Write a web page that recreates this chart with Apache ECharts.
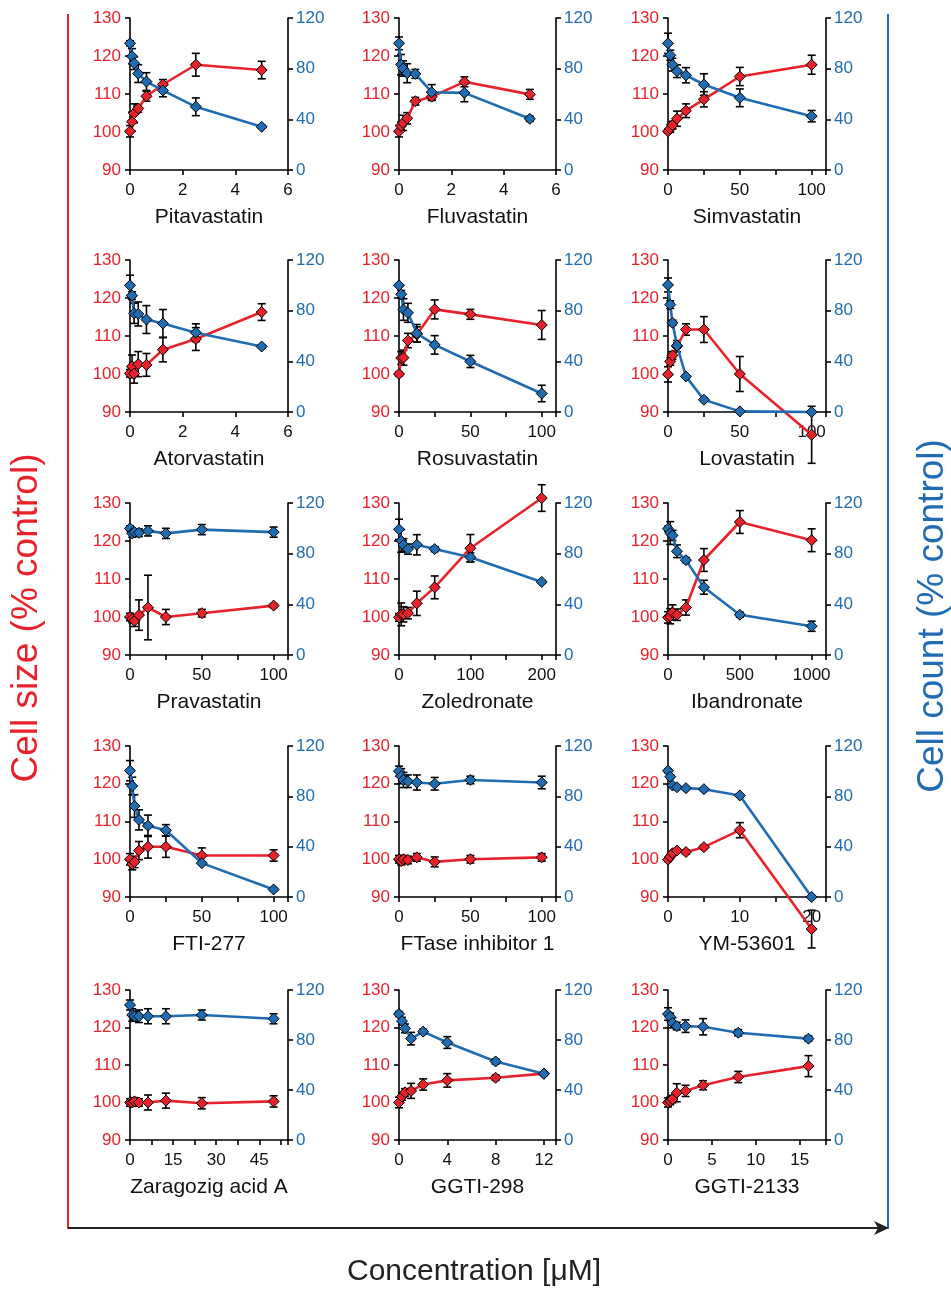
<!DOCTYPE html>
<html>
<head>
<meta charset="utf-8">
<script src="https://cdn.jsdelivr.net/npm/echarts@6/dist/echarts.min.js"></script>
<style>
html,body{margin:0;padding:0;background:#fff;}
#chart{width:951px;height:1289px;}
</style>
</head>
<body>
<div id="chart"></div>
<script>
// ---------- DATA ----------
const drugNames = ['Pitavastatin','Fluvastatin','Simvastatin','Atorvastatin','Rosuvastatin','Lovastatin',
  'Pravastatin','Zoledronate','Ibandronate','FTI-277','FTase inhibitor 1','YM-53601',
  'Zaragozig acid A','GGTI-298','GGTI-2133'];

// Pitavastatin
const pitaDose = [0, 0.078, 0.156, 0.3125, 0.625, 1.25, 2.5, 5];
const pitaSize = [100.2, 102.7, 104.9, 106.2, 109.4, 112.5, 117.7, 116.3];
const pitaSizeErr = [1.5, 2.5, 2.5, 1, 1.3, 1.3, 3, 2.3];
const pitaCount = [100, 89.8, 84.3, 76.1, 69.8, 62.8, 49.9, 34.1];
const pitaCountErr = [2, 6, 5, 7, 7, 5, 7, 1];
// Fluvastatin
const fluvDose = [0, 0.078, 0.156, 0.3125, 0.625, 1.25, 2.5, 5];
const fluvSize = [100.2, 101.6, 102.4, 103.6, 108.1, 109.3, 113.2, 109.9];
const fluvSizeErr = [1.5, 1, 2, 1.5, 1, 1, 1.3, 1.3];
const fluvCount = [100, 83.2, 80.1, 76.4, 75.9, 61.4, 60.9, 40.4];
const fluvCountErr = [5, 8, 6, 7.5, 3.5, 6, 7, 2];
// Simvastatin
const simvDose = [0, 1.5625, 3.125, 6.25, 12.5, 25, 50, 100];
const simvSize = [100.2, 100.9, 101.8, 103.5, 105.6, 108.6, 114.6, 117.7];
const simvSizeErr = [0.5, 1, 1, 2, 1.8, 2, 2.4, 2.5];
const simvCount = [100, 90.6, 83.2, 78.0, 74.8, 67.5, 57.0, 42.5];
const simvCountErr = [8, 4, 5, 5, 6, 8.5, 7, 4.5];
// Atorvastatin
const atorDose = [0, 0.078, 0.156, 0.3125, 0.625, 1.25, 2.5, 5];
const atorSize = [100.2, 102.0, 100.1, 102.6, 102.4, 106.4, 109.2, 116.3];
const atorSizeErr = [1, 3, 2.5, 3.3, 3, 3.2, 3, 2.2];
const atorCount = [100, 91.9, 77.9, 77.4, 73.0, 69.9, 62.6, 51.7];
const atorCountErr = [8, 3, 8, 9.5, 11, 11, 7, 1];
// Rosuvastatin
const rosuDose = [0, 1.5625, 3.125, 6.25, 12.5, 25, 50, 100];
const rosuSize = [100, 104.2, 104.3, 108.8, 110.4, 117.0, 115.7, 112.9];
const rosuSizeErr = [0.5, 1.7, 2, 1.9, 2, 2.5, 1.3, 3.8];
const rosuCount = [100, 92.9, 80.9, 78.3, 62.1, 53.0, 39.9, 14.6];
const rosuCountErr = [1, 3, 8.5, 7.5, 7, 7.3, 4.8, 6.5];
// Lovastatin
const lovaDose = [0, 1.5625, 3.125, 6.25, 12.5, 25, 50, 100];
const lovaSize = [99.9, 103.3, 104.9, 107.3, 111.7, 111.7, 100, 84];
const lovaSizeErr = [2, 1, 1, 1.5, 1.5, 3.4, 4.6, 7.5];
const lovaCount = [100.3, 84.8, 70.4, 52.5, 28.1, 9.7, 0.5, 0];
const lovaCountErr = [5.5, 3, 2, 2, 1, 1, 0, 0];
// Pravastatin
const pravDose = [0, 1.5625, 3.125, 6.25, 12.5, 25, 50, 100];
const pravSize = [100, 99.5, 99, 100.5, 102.5, 100, 101, 103];
const pravSizeErr = [1, 1, 1.5, 4, 8.5, 2, 1, 0.5];
const pravCount = [100, 96, 97, 96.5, 98, 96, 99, 97];
const pravCountErr = [2, 3, 2, 3, 4, 4, 4, 4];
// Zoledronate
const zoleDose = [0, 3.125, 6.25, 12.5, 25, 50, 100, 200];
const zoleSize = [99.9, 100.7, 100.7, 101, 103.6, 107.8, 118.1, 131.3];
const zoleSizeErr = [1, 3, 2, 1.5, 3.2, 3, 3.6, 3.5];
const zoleCount = [99.2, 90.1, 86.8, 83.6, 87, 83.6, 77.1, 57.7];
const zoleCountErr = [8, 9, 5, 4, 8, 2, 3.5, 1];
// Ibandronate
const ibanDose = [0, 15.625, 31.25, 62.5, 125, 250, 500, 1000];
const ibanSize = [99.9, 100.2, 101.2, 100.6, 102.5, 115, 125, 120.2];
const ibanSizeErr = [1.5, 2, 2, 1.5, 2, 3, 3, 3];
const ibanCount = [99.7, 96.3, 94.4, 81.9, 74.9, 53.5, 31.8, 22.7];
const ibanCountErr = [2, 9, 4, 5, 2, 5.5, 2, 4];
// FTI-277
const ftiDose = [0, 1.5625, 3.125, 6.25, 12.5, 25, 50, 100];
const ftiSize = [100, 98.7, 99.3, 102.3, 103.3, 103.3, 101, 101];
const ftiSizeErr = [1.5, 1.5, 1.5, 2.4, 3, 2.8, 2, 1.5];
const ftiCount = [100.4, 88.2, 72.3, 61.3, 56.6, 53, 26.9, 6];
const ftiCountErr = [8, 7, 9, 8, 8.5, 4.5, 1, 1];
// FTase inhibitor 1
const ftaseDose = [0, 1.5625, 3.125, 6.25, 12.5, 25, 50, 100];
const ftaseSize = [100, 99.5, 100, 99.8, 100.5, 99.3, 100, 100.5];
const ftaseSizeErr = [1, 1, 1, 1, 1, 1.3, 1, 1];
const ftaseCount = [100, 96, 93, 92, 91, 90, 93, 91];
const ftaseCountErr = [4, 6, 6, 5, 6, 5, 3, 5];
// YM-53601
const ymDose = [0, 0.3125, 0.625, 1.25, 2.5, 5, 10, 20];
const ymSize = [99.9, 100.7, 101.6, 102.3, 101.9, 103.2, 107.7, 81.5];
const ymSizeErr = [0.5, 0.5, 0.5, 0.5, 0.5, 0.5, 2, 5];
const ymCount = [100.3, 95.6, 88.6, 87.2, 86.5, 85.7, 80.7, 0];
const ymCountErr = [1.5, 1.5, 1, 1, 1, 1, 1, 0];
// Zaragozic acid A
const zaraDose = [0, 0.78, 1.5625, 3.125, 6.25, 12.5, 25, 50];
const zaraSize = [100, 100, 100.3, 100, 100, 100.5, 99.8, 100.3];
const zaraSizeErr = [1, 1, 1, 1, 2, 2, 1.5, 1.5];
const zaraCount = [108, 100, 99, 99, 99, 99, 100, 97];
const zaraCountErr = [4, 5, 4, 5, 6, 6, 4, 4];
// GGTI-298
const g298Dose = [0, 0.25, 0.5, 1, 2, 4, 8, 12];
const g298Size = [100, 101.6, 102.7, 103.1, 104.8, 105.9, 106.6, 107.7];
const g298SizeErr = [1.4, 1, 1, 2, 1.5, 1.8, 0.7, 0.5];
const g298Count = [100.8, 95.1, 89.3, 81.1, 86.7, 78, 62.8, 53];
const g298CountErr = [2, 3, 3.5, 5, 2, 4.7, 2, 1];
// GGTI-2133
const g2133Dose = [0, 0.25, 0.5, 1, 2, 4, 8, 16];
const g2133Size = [100, 100.4, 100.9, 102.6, 103.1, 104.6, 106.8, 109.7];
const g2133SizeErr = [1.2, 1, 1, 2.4, 1.5, 1.2, 1.5, 2.8];
const g2133Count = [100.8, 98.5, 93.7, 91.1, 91.1, 90.6, 85.8, 81.1];
const g2133CountErr = [5, 3, 4, 3, 5, 6.5, 2.5, 2];

// x-axis settings (max, interval, labelled ticks)
const xMax = [6, 6, 110, 6, 110, 110, 110, 220, 1100, 110, 110, 22, 55, 13, 18];
const xInterval = [2, 2, 25, 2, 25, 25, 25, 50, 250, 25, 25, 5, 7.5, 4, 5];
const xTickLabels = [[0,2,4,6],[0,2,4,6],[0,50,100],[0,2,4,6],[0,50,100],[0,50,100],
  [0,50,100],[0,100,200],[0,500,1000],[0,50,100],[0,50,100],[0,10,20],
  [0,15,30,45],[0,4,8,12],[0,5,10,15]];
const sizeTicks = [90, 100, 110, 120, 130];
const countTicks = [0, 40, 80, 120];

const panels = [
  [pitaDose, pitaSize, pitaSizeErr, pitaCount, pitaCountErr],
  [fluvDose, fluvSize, fluvSizeErr, fluvCount, fluvCountErr],
  [simvDose, simvSize, simvSizeErr, simvCount, simvCountErr],
  [atorDose, atorSize, atorSizeErr, atorCount, atorCountErr],
  [rosuDose, rosuSize, rosuSizeErr, rosuCount, rosuCountErr],
  [lovaDose, lovaSize, lovaSizeErr, lovaCount, lovaCountErr],
  [pravDose, pravSize, pravSizeErr, pravCount, pravCountErr],
  [zoleDose, zoleSize, zoleSizeErr, zoleCount, zoleCountErr],
  [ibanDose, ibanSize, ibanSizeErr, ibanCount, ibanCountErr],
  [ftiDose, ftiSize, ftiSizeErr, ftiCount, ftiCountErr],
  [ftaseDose, ftaseSize, ftaseSizeErr, ftaseCount, ftaseCountErr],
  [ymDose, ymSize, ymSizeErr, ymCount, ymCountErr],
  [zaraDose, zaraSize, zaraSizeErr, zaraCount, zaraCountErr],
  [g298Dose, g298Size, g298SizeErr, g298Count, g298CountErr],
  [g2133Dose, g2133Size, g2133SizeErr, g2133Count, g2133CountErr]
];

// ---------- STYLE / LAYOUT ----------
const RED = '#e8222b';
const BLUE = '#1f6cb3';
const FONT = '"Liberation Sans", Arial, Helvetica, sans-serif';
const colLeft = [130, 399, 668];
const colWidth = [158, 157, 158];
const rowTop = [18, 260, 503, 746, 990];
const rowHeight = [152, 152, 152, 151, 150];

const grids = [], xAxes = [], yAxes = [], series = [];

function errRender(params, api) {
  const x = api.value(0), lo = api.value(1), hi = api.value(2);
  if (hi - lo <= 0) return null;
  const p1 = api.coord([x, hi]);
  const p2 = api.coord([x, lo]);
  const w = 4;
  const st = { stroke: '#000', lineWidth: 1.6 };
  return {
    type: 'group',
    children: [
      { type: 'line', shape: { x1: p1[0], y1: p1[1], x2: p2[0], y2: p2[1] }, style: st },
      { type: 'line', shape: { x1: p1[0] - w, y1: p1[1], x2: p1[0] + w, y2: p1[1] }, style: st },
      { type: 'line', shape: { x1: p2[0] - w, y1: p2[1], x2: p2[0] + w, y2: p2[1] }, style: st }
    ]
  };
}

panels.forEach((p, i) => {
  const [dose, size, sizeErr, count, countErr] = p;
  const c = i % 3, r = Math.floor(i / 3);
  grids.push({ left: colLeft[c], top: rowTop[r], width: colWidth[c], height: rowHeight[r],
    containLabel: false, outerBoundsMode: 'none' });
  const labels = xTickLabels[i];
  xAxes.push({
    gridIndex: i, type: 'value', min: 0, max: xMax[i], interval: xInterval[i],
    name: drugNames[i], nameLocation: 'middle', nameGap: 37,
    nameTextStyle: { color: '#111', fontSize: 21, fontFamily: FONT },
    axisLine: { show: true, onZero: false, lineStyle: { color: '#000', width: 1.6 } },
    axisTick: { show: true, inside: false, length: 5, lineStyle: { color: '#000', width: 1.6 } },
    axisLabel: { show: true, color: '#111', fontSize: 17, fontFamily: FONT, margin: 12,
      showMinLabel: true, showMaxLabel: true, hideOverlap: false,
      formatter: v => labels.some(l => Math.abs(l - v) < 1e-6) ? String(v) : '' },
    splitLine: { show: false }
  });
  yAxes.push({
    gridIndex: i, type: 'value', position: 'left', min: 90, max: 130, interval: 10,
    axisLine: { show: true, onZero: false, lineStyle: { color: '#000', width: 1.6 } },
    axisTick: { show: true, inside: false, length: 5, lineStyle: { color: '#000', width: 1.6 } },
    axisLabel: { color: RED, fontSize: 17, fontFamily: FONT, margin: 9,
      formatter: v => sizeTicks.includes(v) ? String(v) : '' },
    splitLine: { show: false }
  });
  yAxes.push({
    gridIndex: i, type: 'value', position: 'right', min: 0, max: 120, interval: 40,
    axisLine: { show: true, onZero: false, lineStyle: { color: '#000', width: 1.6 } },
    axisTick: { show: true, inside: false, length: 5, lineStyle: { color: '#000', width: 1.6 } },
    axisLabel: { color: BLUE, fontSize: 17, fontFamily: FONT, margin: 8,
      formatter: v => countTicks.includes(v) ? String(v) : '' },
    splitLine: { show: false }
  });
  // error bars
  series.push({
    type: 'custom', xAxisIndex: i, yAxisIndex: 2 * i, clip: false, z: 2, silent: true,
    renderItem: errRender, encode: { x: 0, y: [1, 2] },
    data: dose.map((d, k) => [d, size[k] - sizeErr[k], size[k] + sizeErr[k]])
  });
  series.push({
    type: 'custom', xAxisIndex: i, yAxisIndex: 2 * i + 1, clip: false, z: 2, silent: true,
    renderItem: errRender, encode: { x: 0, y: [1, 2] },
    data: dose.map((d, k) => [d, count[k] - countErr[k], count[k] + countErr[k]])
  });
  series.push({
    type: 'line', xAxisIndex: i, yAxisIndex: 2 * i, clip: false, z: 3,
    symbol: 'diamond', symbolSize: 11, showAllSymbol: true,
    lineStyle: { color: RED, width: 2.6 },
    itemStyle: { color: RED, borderColor: '#000', borderWidth: 1 },
    data: dose.map((d, k) => [d, size[k]])
  });
  series.push({
    type: 'line', xAxisIndex: i, yAxisIndex: 2 * i + 1, clip: false, z: 4,
    symbol: 'diamond', symbolSize: 11, showAllSymbol: true,
    lineStyle: { color: BLUE, width: 2.6 },
    itemStyle: { color: BLUE, borderColor: '#000', borderWidth: 1 },
    data: dose.map((d, k) => [d, count[k]])
  });
});

const graphic = [
  { type: 'line', shape: { x1: 68, y1: 14, x2: 68, y2: 1229 }, style: { stroke: RED, lineWidth: 2 } },
  { type: 'line', shape: { x1: 888, y1: 14, x2: 888, y2: 1229 }, style: { stroke: BLUE, lineWidth: 2 } },
  { type: 'line', shape: { x1: 68, y1: 1228, x2: 878, y2: 1228 }, style: { stroke: '#222', lineWidth: 2 } },
  { type: 'polygon', shape: { points: [[889, 1228], [874, 1221], [878, 1228], [874, 1235]] }, style: { fill: '#222' } },
  { type: 'text', x: 27, y: 618, rotation: Math.PI / 2,
    style: { text: 'Cell size (% control)', fill: RED, font: '37px ' + FONT, textAlign: 'center', textVerticalAlign: 'middle' } },
  { type: 'text', x: 933, y: 616, rotation: Math.PI / 2,
    style: { text: 'Cell count (% control)', fill: BLUE, font: '37px ' + FONT, textAlign: 'center', textVerticalAlign: 'middle' } },
  { type: 'text', x: 474, y: 1272,
    style: { text: 'Concentration [μM]', fill: '#222', font: '30px ' + FONT, textAlign: 'center', textVerticalAlign: 'middle' } }
];

const chart = echarts.init(document.getElementById('chart'), null, { renderer: 'canvas' });
chart.setOption({
  animation: false,
  backgroundColor: '#fff',
  grid: grids, xAxis: xAxes, yAxis: yAxes, series: series, graphic: graphic
});
</script>
</body>
</html>
